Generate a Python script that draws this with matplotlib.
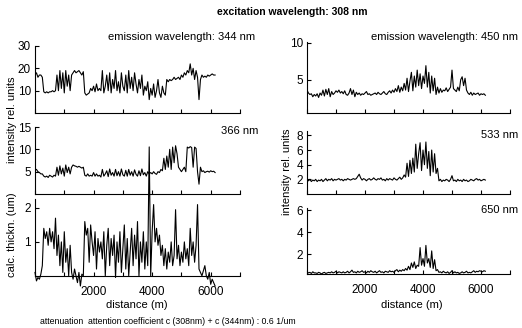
import numpy as np
import matplotlib
matplotlib.use("Agg")
import matplotlib.pyplot as plt
from matplotlib.ticker import MultipleLocator, FuncFormatter

plt.rcParams['font.family'] = ['Liberation Sans', 'DejaVu Sans']

# distance along the track, one sample every 50 m
dist = np.arange(0, 6200, 50)

# excitation 308 nm, emission 344 nm
em344 = [17, 18, 16, 17, 17, 16,
         9.5, 9, 9.5, 9, 9.5, 9.5, 10, 9.5,
         10, 17, 10, 19, 11, 18, 9, 19, 12, 17, 10,
         17, 18, 19, 18, 18.5, 19, 18, 17, 18.5,
         9, 8, 8.5, 9, 11, 10, 12, 9.5, 13, 10, 11, 10,
         19, 9, 12, 17, 10, 18, 9, 15, 11, 19, 10, 14, 9, 18, 12, 10, 17, 9, 19, 11,
         16, 10, 18, 13, 9, 15, 11, 17, 8, 12, 10, 14, 6,
         11, 8, 13, 7, 10, 15, 9, 7, 12, 9, 8,
         15, 14, 15, 14.5, 15, 16, 15, 15.5, 16, 15, 17, 16, 18, 17, 19, 18,
         22, 17, 20, 15, 19, 16,
         6,
         15, 17, 16, 16.5, 16, 17, 16.5, 17, 17.5, 17, 17]

em366 = [5.5, 5.5, 5, 4.8, 4.5, 4.5,
         4, 3.8, 4, 3.7, 4.2, 4, 3.8, 4.2,
         4, 6, 4.2, 6.3, 4.5, 5.8, 4, 6.5, 4.8, 6, 4.5,
         6, 6.5, 6.3, 6.2, 6, 6.2, 6, 5.8, 6,
         4.2, 4, 4.5, 4, 4.2, 4, 4.8, 4, 4.5, 4, 4.2, 3.8,
         5.5, 4, 4.5, 5.2, 3.9, 5.6, 4.2, 4.8, 4, 5.5, 4.1, 5, 4, 5.6, 4.3, 4, 5.3, 4, 5.5, 4.2,
         5, 4, 5.4, 4.4, 4, 5.2, 4.1, 5.6, 4.3, 4.8, 4, 5, 4.5,
         4.8, 4.5, 5, 4.6, 4.4, 5, 4.8, 5.5, 5.2, 8, 5.5,
         8.5, 6, 10, 5.5, 10.5, 7, 10.8, 9, 6, 5.5, 5, 5.5, 6, 5, 10.5, 10.3,
         10.6, 10.4, 6, 10.5, 10.2, 5,
         2.2,
         6, 5, 5.2, 4.8, 5, 5.1, 4.9, 5.2, 5, 5.1, 4.8]

thickness = [0.1, -0.15, -0.05, -0.1, 0.05, 0.3,
             1.4, 1.1, 1.3, 0.9, 1.4, 1.0, 1.3, 0.8,
             1.7, 0.6, 1.2, 0.3, 1.0, 0.1, 1.3, 0.4, 0.8, 0.0, 0.9,
             0.1, -0.1, 0.2, 0.0, -0.2, 0.1, -0.3, 0.05, 0.0,
             1.6, 1.2, 1.4, 0.4, 1.5, 1.0, 0.6, 1.3, 0.2, 1.1, 0.7, 1.0,
             0.5, 1.3, 0.0, 0.9, 1.4, 0.3, 1.1, 0.6, 1.2, -0.05, 1.0, 0.4, 1.3, 0.1, 0.8, 1.5, 0.2,
             1.1, 0.0, 0.7, 1.4, 0.3, 1.2, 0.5, 1.6, 0.0, 1.0, 0.4, 1.3, 0.2, 1.0, 0.3, 3.8,
             0.0, 1.3, 2.1, 1.0, 1.4, 0.9, 1.2, 0.6, 0.9, 0.3, 0.8,
             0.2, 0.7, 0.4, 1.0, 0.3, 0.6, 1.95, 0.5, 0.9, 0.3, 0.7, 0.4, 1.0, 0.5, 0.8, 0.3,
             1.4, 0.6, 1.0, 0.4, 0.9, 2.1,
             0.2,
             0.1, 0.0, 0.15, 0.3, 0.0, -0.1, 0.1, -0.25, -0.1, -0.2, -0.3]

em450 = [3.6, 3.2, 3.0, 3.1, 2.7, 3.0,
         2.8, 3.1, 2.6, 3.2, 2.9, 3.6, 2.8, 3.7,
         3.0, 3.8, 2.7, 3.4, 3.0, 3.2, 3.5, 3.3, 3.6, 3.2, 3.4,
         3.1, 3.5, 3.0, 2.9, 3.2, 3.8, 3.0, 3.6, 2.7,
         3.3, 3.0, 3.2, 2.9, 3.1, 3.0, 3.2, 3.4, 3.0, 3.1, 2.9, 3.0,
         3.1, 3.2, 3.0, 3.3, 3.1, 3.0, 3.2, 3.4, 3.1, 3.0, 3.3, 3.5, 3.2, 3.6, 3.3, 3.8, 3.4,
         4.2, 3.3, 4.0, 3.5, 4.5, 3.6, 5.2, 3.4, 4.8, 6.0, 3.5, 5.5, 4.0, 6.3, 4.2, 5.8,
         3.8, 5.5, 4.5, 6.9, 4.0, 6.0, 3.2, 5.5, 3.5, 5.2, 3.0,
         4.0, 3.2, 3.8, 3.3, 3.6, 3.5, 3.9, 3.4, 3.7, 4.0, 6.3, 3.8, 3.6, 3.4, 4.0, 3.5,
         5.0, 5.4, 4.2, 5.2, 3.6, 3.2,
         3.0, 3.3, 2.9, 3.2, 3.0, 3.1, 3.2, 2.9, 3.1, 3.0, 3.1, 2.9]

em533 = [2.0, 1.8, 2.0, 1.7, 1.9, 1.8,
         2.0, 1.7, 1.9, 1.8, 2.0, 1.7, 1.9, 2.1,
         1.8, 2.0, 1.9, 2.1, 1.8, 2.0, 1.9, 2.0, 2.1, 1.9, 2.0,
         1.8, 2.0, 1.9, 2.1, 2.0, 1.9, 2.0, 2.1, 2.0,
         2.1, 2.4, 2.7, 2.2, 1.9, 2.1, 2.0, 1.8, 2.0, 2.1, 1.9, 2.0,
         2.2, 2.0, 1.9, 2.1, 2.0, 2.2, 1.9, 2.0, 1.8, 2.1, 1.9, 2.1, 2.0, 1.9, 2.2, 2.0, 1.9,
         2.1, 2.3, 2.0, 2.2, 2.6, 2.3, 4.2, 2.4, 4.6, 2.8, 4.9, 3.0, 6.8, 3.5, 5.5, 7.0,
         3.2, 6.0, 4.0, 7.1, 3.5, 5.8, 2.5, 6.0, 3.0, 5.5, 2.8,
         3.5, 1.8, 2.0, 1.7, 1.9, 1.8, 2.0, 1.9, 1.7, 2.0, 2.5, 1.8, 1.9, 1.7, 2.0, 1.8,
         1.9, 1.7, 2.0, 1.8, 1.9, 1.7,
         1.8, 2.0, 1.9, 1.8, 2.0, 2.1, 1.9, 2.0, 1.8, 1.9, 2.0, 1.9]

em650 = [0.4, 0.3, 0.35, 0.25, 0.4, 0.3,
         0.3, 0.25, 0.35, 0.3, 0.2, 0.3, 0.35, 0.25,
         0.3, 0.35, 0.3, 0.4, 0.3, 0.35, 0.45, 0.3, 0.4, 0.35, 0.3,
         0.4, 0.3, 0.35, 0.45, 0.3, 0.4, 0.55, 0.35, 0.4,
         0.3, 0.45, 0.35, 0.4, 0.5, 0.35, 0.4, 0.3, 0.45, 0.35, 0.5, 0.4,
         0.35, 0.45, 0.3, 0.4, 0.5, 0.35, 0.4, 0.3, 0.45, 0.4, 0.35, 0.5, 0.4, 0.45, 0.35, 0.5, 0.6,
         0.4, 0.55, 0.45, 0.6, 0.5, 0.7, 0.55, 0.9, 0.6, 1.2, 0.8, 1.3, 0.7, 1.0, 0.9, 2.6,
         1.0, 1.6, 0.9, 2.8, 1.2, 1.6, 0.8, 2.3, 0.7, 1.5, 0.5,
         0.6, 0.35, 0.4, 0.3, 0.45, 0.35, 0.3, 0.4, 0.25, 0.35, 0.5, 0.3, 0.4, 0.3, 0.35, 0.25,
         0.3, 0.4, 0.3, 0.35, 0.45, 0.3,
         0.35, 0.3, 0.4, 0.5, 0.35, 0.45, 0.4, 0.5, 0.45, 0.4, 0.5, 0.45]

W, H = 522, 328
fig = plt.figure(figsize=(W / 100, H / 100), dpi=100)


def box(x0, x1, ytop, ybot):
    # pixel box -> figure fraction
    return [x0 / W, 1 - ybot / H, (x1 - x0) / W, (ybot - ytop) / H]


def style(ax, yticks, labels=False):
    ax.spines['top'].set_visible(False)
    ax.spines['right'].set_visible(False)
    ax.set_xlim(0, 7000)
    ax.xaxis.set_major_locator(MultipleLocator(1000))
    ax.set_yticks(yticks)
    ax.tick_params(direction='in', length=3, width=0.8, labelsize=8.5, pad=3)
    ax.tick_params(axis='x', pad=7)
    if labels:
        ax.xaxis.set_major_formatter(FuncFormatter(
            lambda v, p: '%d' % v if v in (2000, 4000, 6000) else ''))
    else:
        ax.set_xticklabels([])


lw = 0.8
ax1 = fig.add_axes(box(35, 240, 46, 113))
ax1.plot(dist, em344, color='black', lw=lw)
ax1.set_ylim(0, 30)
style(ax1, [10, 20, 30])

ax2 = fig.add_axes(box(35, 240, 127, 194))
ax2.plot(dist, em366, color='black', lw=lw)
ax2.set_ylim(0, 15)
style(ax2, [5, 10, 15])

ax3 = fig.add_axes(box(35, 240, 199.5, 286))
ax3.plot(dist, thickness, color='black', lw=lw, clip_on=False)
ax3.set_ylim(-0.3, 2.25)
ax3.spines['bottom'].set_position(('data', 0))
ax3.spines['left'].set_bounds(0, 2.25)
style(ax3, [1, 2], labels=True)

ax4 = fig.add_axes(box(307, 510, 42, 113))
ax4.plot(dist, em450, color='black', lw=lw)
ax4.set_ylim(0.5, 10.1)
style(ax4, [5, 10])

ax5 = fig.add_axes(box(307, 510, 131, 194))
ax5.plot(dist, em533, color='black', lw=lw)
ax5.set_ylim(0, 8.6)
style(ax5, [2, 4, 6, 8])

ax6 = fig.add_axes(box(307, 510, 208, 274))
ax6.plot(dist, em650, color='black', lw=lw)
ax6.set_ylim(0.2, 6.2)
style(ax6, [2, 4, 6], labels=True)


def ftext(px, py, s, **kw):
    fig.text(px / W, 1 - py / H, s, va='center', **kw)


ftext(292, 12, 'excitation wavelength: 308 nm', ha='center', fontsize=7.5, fontweight='bold')
ftext(255, 37, 'emission wavelength: 344 nm', ha='right', fontsize=8)
ftext(258, 131, '366 nm', ha='right', fontsize=8)
ftext(518, 37, 'emission wavelength: 450 nm', ha='right', fontsize=8)
ftext(518, 135, '533 nm', ha='right', fontsize=8)
ftext(518, 210, '650 nm', ha='right', fontsize=8)
ftext(12, 120, 'intensity rel. units', ha='center', rotation=90, fontsize=8)
ftext(12, 235, 'calc. thickn. (um)', ha='center', rotation=90, fontsize=8)
ftext(287, 172, 'intensity rel. units', ha='center', rotation=90, fontsize=8)
ftext(137, 305, 'distance (m)', ha='center', fontsize=8)
ftext(412, 305, 'distance (m)', ha='center', fontsize=8)
ftext(40, 322, 'attenuation  attention coefficient c (308nm) + c (344nm) : 0.6 1/um',
      ha='left', fontsize=6.3)

fig.savefig('out.png', dpi=100)
